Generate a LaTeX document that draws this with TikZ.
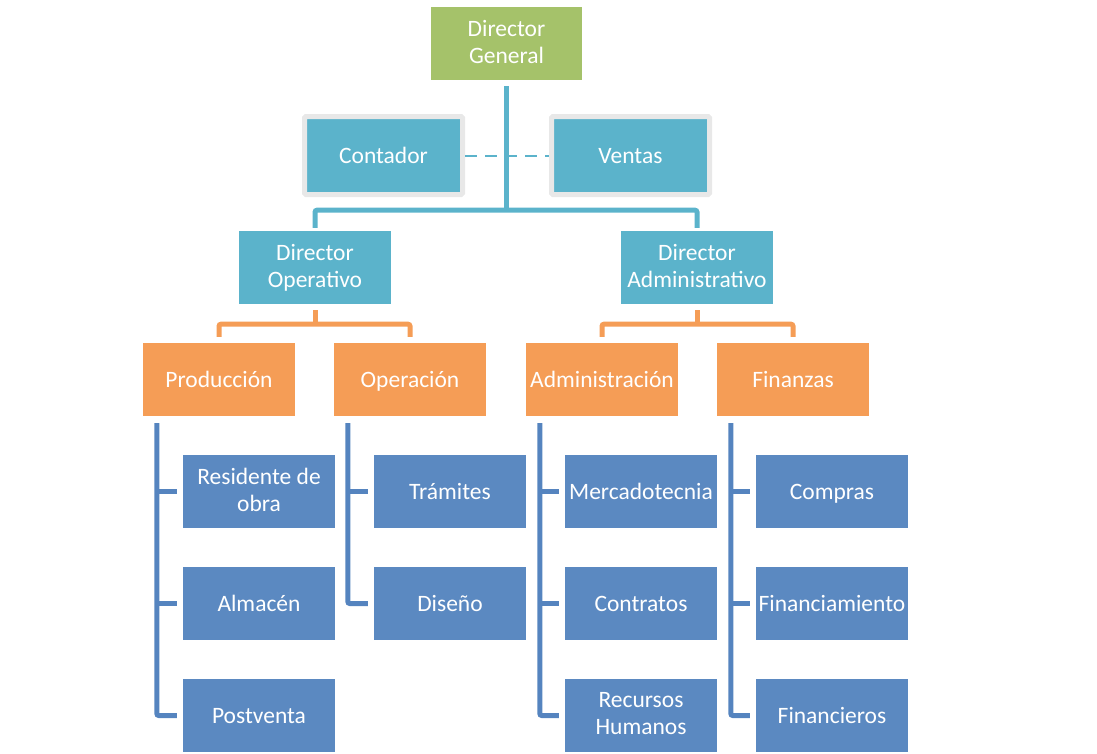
\documentclass[tikz,border=0pt]{standalone}
\usepackage{fontspec}
\setmainfont{Carlito}
\usetikzlibrary{calc, positioning}
\definecolor{MyGreen}{HTML}{A5C26A}
\definecolor{MyAqua}{HTML}{5BB3CB}
\definecolor{MyOrange}{HTML}{F59D56}
\definecolor{MyBlue}{HTML}{5B89C1}
\definecolor{MyBlueLine}{HTML}{5584BF}
\definecolor{MyFrame}{HTML}{E8E8E8}
\newcommand\boxstrut{\rule[-3.2pt]{0pt}{23.2pt}}

\begin{document}
\begin{tikzpicture}[x=1pt, y=-1pt,
		every node/.style={font=\fontsize{23.5}{27}\selectfont, text=white, align=center, inner sep=0pt,
			execute at begin node=\boxstrut, execute at end node=\boxstrut},
		box/.style={minimum width=152pt, minimum height=73pt},
		greenbox/.style={box, fill=MyGreen, minimum width=151pt},
		aquabox/.style={box, fill=MyAqua},
		framebox/.style={box, fill=MyAqua, draw=MyFrame, line width=5pt, rounded corners=1.5pt, minimum width=158pt, minimum height=78pt},
		orangebox/.style={box, fill=MyOrange},
		bluebox/.style={box, fill=MyBlue},
		aqualine/.style={MyAqua, line width=5pt, rounded corners=2pt},
		orangeline/.style={MyOrange, line width=5pt, rounded corners=2pt},
		blueline/.style={MyBlueLine, line width=5pt, rounded corners=2pt}]
	
	\useasboundingbox (0,0) rectangle (1097,753);
	
	\node[greenbox] (dg) at (506.5, 43.5) {Director\\General};
	
	\node[framebox] (cont) at (383.5, 155.5) {Contador};
	\node[framebox] (vent) at (630.5, 155.5) {Ventas};
	
	\node[aquabox] (dop) at (315, 267.5) {Director\\Operativo};
	\node[aquabox] (dad) at (697, 267.5) {Director\\Administrativo};
	
	\node[orangebox] (prod) at (219, 379.5) {Producción};
	\node[orangebox] (oper) at (410, 379.5) {Operación};
	\node[orangebox] (adm)  at (602, 379.5) {Administración};
	\node[orangebox] (fin)  at (793, 379.5) {Finanzas};
	
	\node[bluebox] (res)  at (259, 491.5) {Residente de\\obra};
	\node[bluebox] (alm)  at (259, 603.5) {Almacén};
	\node[bluebox] (post) at (259, 715.5) {Postventa};
	
	\node[bluebox] (tram) at (450, 491.5) {Trámites};
	\node[bluebox] (dis)  at (450, 603.5) {Diseño};
	
	\node[bluebox] (merc) at (641, 491.5) {Mercadotecnia};
	\node[bluebox] (contr) at (641, 603.5) {Contratos};
	\node[bluebox] (rh)   at (641, 715.5) {Recursos\\Humanos};
	
	\node[bluebox] (comp) at (832, 491.5) {Compras};
	\node[bluebox] (fnto) at (832, 603.5) {Financiamiento};
	\node[bluebox] (fros) at (832, 715.5) {Financieros};
	
	% assistants
	\draw[MyAqua, line width=2pt, dash pattern=on 12pt off 8pt] (cont.east) -- (vent.west);
	
	\draw[aqualine, shorten <=6pt] (dg.south) -- ++(0,130);
	\draw[aqualine, shorten <=3pt, shorten >=3pt] (dop.north) |- ($(dg.south)+(0,130)$) -| (dad.north);
	
	\draw[orangeline, shorten <=6pt] (dop.south) -- ++(0,20);
	\draw[orangeline, shorten <=6pt, shorten >=6pt] (prod.north) |- ($(dop.south)+(0,20)$) -| (oper.north);
	\draw[orangeline, shorten <=6pt] (dad.south) -- ++(0,20);
	\draw[orangeline, shorten <=6pt, shorten >=6pt] (adm.north) |- ($(dad.south)+(0,20)$) -| (fin.north);
	
	% departments
	\draw[blueline, shorten >=6pt] ($(prod.south west)+(14,7)$) |- (post.west);
	\draw[blueline, shorten >=6pt] ($(prod.south west |- res.west)+(14,0)$) -- (res.west);
	\draw[blueline, shorten >=6pt] ($(prod.south west |- alm.west)+(14,0)$) -- (alm.west);
	
	\draw[blueline, shorten >=6pt] ($(oper.south west)+(14,7)$) |- (dis.west);
	\draw[blueline, shorten >=6pt] ($(oper.south west |- tram.west)+(14,0)$) -- (tram.west);
	
	\draw[blueline, shorten >=6pt] ($(adm.south west)+(14,7)$) |- (rh.west);
	\draw[blueline, shorten >=6pt] ($(adm.south west |- merc.west)+(14,0)$) -- (merc.west);
	\draw[blueline, shorten >=6pt] ($(adm.south west |- contr.west)+(14,0)$) -- (contr.west);
	
	\draw[blueline, shorten >=6pt] ($(fin.south west)+(14,7)$) |- (fros.west);
	\draw[blueline, shorten >=6pt] ($(fin.south west |- comp.west)+(14,0)$) -- (comp.west);
	\draw[blueline, shorten >=6pt] ($(fin.south west |- fnto.west)+(14,0)$) -- (fnto.west);
\end{tikzpicture}
\end{document}
